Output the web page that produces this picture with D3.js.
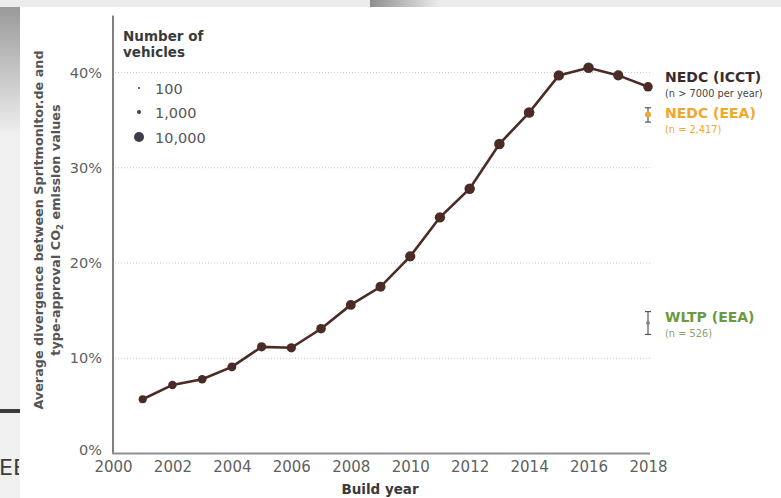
<!DOCTYPE html>
<html>
<head>
<meta charset="utf-8">
<script src="https://cdn.jsdelivr.net/npm/d3@7"></script>
<style>
  html, body { margin: 0; padding: 0; background: #fff; }
  svg { display: block; }
  text { font-family: "DejaVu Sans", "Open Sans", sans-serif; }
</style>
</head>
<body>
<svg id="chart" width="781" height="498"></svg>
<script>
// Build years with Spritmonitor.de records
const years = [2001, 2002, 2003, 2004, 2005, 2006, 2007, 2008, 2009,
               2010, 2011, 2012, 2013, 2014, 2015, 2016, 2017, 2018];
// Average divergence (%) between real-world and type-approval CO2, NEDC (ICCT)
const divergence = [5.7, 7.2, 7.8, 9.1, 11.2, 11.1, 13.1, 15.6, 17.5,
                    20.7, 24.8, 27.8, 32.5, 35.8, 39.7, 40.5, 39.7, 38.5];
// Number of vehicles behind each annual mean (marker size)
const vehicles = [6200, 6800, 7200, 7600, 8300, 8500, 9000, 9600, 10000,
                  10400, 10800, 11000, 11200, 11400, 11000, 11200, 10200, 8800];

// EEA comparison points for build year 2018: mean with error range (%)
const eeaLabels = ["NEDC (EEA)", "WLTP (EEA)"];
const eeaCounts = ["(n = 2,417)", "(n = 526)"];
const eeaMean = [35.6, 13.7];
const eeaLow = [34.8, 12.5];
const eeaHigh = [36.3, 14.9];

const yTicks = [0, 10, 20, 30, 40];
const xTicks = [2000, 2002, 2004, 2006, 2008, 2010, 2012, 2014, 2016, 2018];
const legendCounts = [100, 1000, 10000];

const colLine = "#4a2b25";
const colOrange = "#f0a82e";
const colGreen = "#6c9a40";

const svg = d3.select("#chart");

// ---- page surroundings ----
svg.append("rect").attr("x", 0).attr("y", 0).attr("width", 781).attr("height", 498).attr("fill", "#fff");
const defs = svg.append("defs");
const gTop = defs.append("linearGradient").attr("id", "gTop").attr("x1", 0).attr("x2", 1).attr("y1", 0).attr("y2", 0);
gTop.append("stop").attr("offset", 0).attr("stop-color", "#8e8e8e");
gTop.append("stop").attr("offset", 1).attr("stop-color", "#ececec");
const gLeft = defs.append("linearGradient").attr("id", "gLeft").attr("x1", 0).attr("x2", 0).attr("y1", 0).attr("y2", 1);
gLeft.append("stop").attr("offset", 0).attr("stop-color", "#9a9a9a");
gLeft.append("stop").attr("offset", 1).attr("stop-color", "#ededed");

svg.append("rect").attr("x", 0).attr("y", 0).attr("width", 20).attr("height", 498).attr("fill", "#f0f0f0");
svg.append("rect").attr("x", 0).attr("y", 7).attr("width", 20).attr("height", 125).attr("fill", "url(#gLeft)");
svg.append("rect").attr("x", 0).attr("y", 0).attr("width", 781).attr("height", 7).attr("fill", "#ececec");
svg.append("rect").attr("x", 370).attr("y", 0).attr("width", 70).attr("height", 7).attr("fill", "url(#gTop)");
svg.append("rect").attr("x", 0).attr("y", 409).attr("width", 20).attr("height", 4).attr("fill", "#3a3a3a");
defs.append("clipPath").attr("id", "clipLeft").append("rect").attr("x", 0).attr("y", 0).attr("width", 19).attr("height", 498);
svg.append("text").attr("clip-path", "url(#clipLeft)")
  .attr("x", -1).attr("y", 475).attr("font-size", 22).attr("fill", "#3c3c3c").text("EB");

// ---- scales ----
const x = d3.scaleLinear().domain([2000, 2018]).range([113, 648]);
const y = d3.scaleLinear().domain([0, 46]).range([453.5, 15.4]);
const r = d3.scaleSqrt().domain([0, 10000]).range([0.6, 5]);

// gridlines
svg.append("g").selectAll("line").data(yTicks.filter(d => d > 0)).join("line")
  .attr("x1", x(2000) + 2).attr("x2", x(2018) + 4)
  .attr("y1", d => y(d)).attr("y2", d => y(d))
  .attr("stroke", "#c9c9c9").attr("stroke-width", 1).attr("stroke-dasharray", "1,2");

// y axis
const yAxis = svg.append("g").attr("transform", `translate(${x(2000)},0)`)
  .call(d3.axisLeft(y).tickValues(yTicks).tickSize(0).tickPadding(11).tickFormat(d => d + "%"));
yAxis.select(".domain").remove();
yAxis.selectAll("text").attr("font-size", 14.5).attr("fill", "#5f5f5f")
  .attr("font-family", "DejaVu Sans, sans-serif");
yAxis.selectAll("text").filter(d => d === 0).attr("dy", "0.1em");
svg.append("line").attr("x1", x(2000)).attr("x2", x(2000))
  .attr("y1", y.range()[1]).attr("y2", y(0))
  .attr("stroke", "#555").attr("stroke-width", 1.5);

// x axis
const xAxis = svg.append("g").attr("transform", `translate(0,${y(0)})`)
  .call(d3.axisBottom(x).tickValues(xTicks).tickSize(0).tickPadding(8).tickFormat(d3.format("d")));
xAxis.select(".domain").remove();
xAxis.selectAll("text").attr("font-size", 15).attr("fill", "#5f5f5f")
  .attr("font-family", "DejaVu Sans, sans-serif");
svg.append("line").attr("x1", x(2000) - 0.75).attr("x2", x(2018) + 2)
  .attr("y1", y(0)).attr("y2", y(0))
  .attr("stroke", "#8f8f8f").attr("stroke-width", 2.2);

// axis titles
svg.append("text").attr("x", 380).attr("y", 493.5).attr("text-anchor", "middle")
  .attr("font-size", 13.5).attr("font-weight", "bold").attr("fill", "#3a3a3a").text("Build year");
const yt = svg.append("text").attr("transform", "translate(0,230) rotate(-90)")
  .attr("text-anchor", "middle").attr("font-size", 12.8).attr("font-weight", "bold").attr("fill", "#555");
yt.append("tspan").attr("x", 0).attr("y", 43).text("Average divergence between Spritmonitor.de and");
const t2 = yt.append("tspan").attr("x", 0).attr("y", 60);
t2.append("tspan").text("type-approval CO");
t2.append("tspan").attr("font-size", 8.5).attr("dy", 3).text("2");
t2.append("tspan").attr("dy", -3).text(" emission values");

// NEDC (ICCT) line and markers
const pts = years.map((yr, i) => ({ yr, v: divergence[i], n: vehicles[i] }));
svg.append("path").datum(pts)
  .attr("fill", "none").attr("stroke", colLine).attr("stroke-width", 2.6)
  .attr("d", d3.line().x(d => x(d.yr)).y(d => y(d.v)));
svg.append("g").selectAll("circle").data(pts).join("circle")
  .attr("cx", d => x(d.yr)).attr("cy", d => y(d.v)).attr("r", d => r(d.n))
  .attr("fill", colLine);

// EEA error bars for 2018
const eea = eeaMean.map((m, i) => ({ m, lo: eeaLow[i], hi: eeaHigh[i] }));
const eb = svg.append("g").selectAll("g").data(eea).join("g");
eb.append("line").attr("x1", x(2018)).attr("x2", x(2018))
  .attr("y1", d => y(d.lo)).attr("y2", d => y(d.hi)).attr("stroke", "#555").attr("stroke-width", 1.2);
eb.append("line").attr("x1", x(2018) - 3).attr("x2", x(2018) + 3)
  .attr("y1", d => y(d.lo)).attr("y2", d => y(d.lo)).attr("stroke", "#555").attr("stroke-width", 1.2);
eb.append("line").attr("x1", x(2018) - 3).attr("x2", x(2018) + 3)
  .attr("y1", d => y(d.hi)).attr("y2", d => y(d.hi)).attr("stroke", "#555").attr("stroke-width", 1.2);
eb.append("circle").attr("cx", x(2018)).attr("cy", d => y(d.m))
  .attr("r", (d, i) => i === 0 ? 3 : 1.8)
  .attr("fill", (d, i) => i === 0 ? colOrange : "#777");

// series labels
const lx = 665;
svg.append("text").attr("x", lx).attr("y", 82).attr("font-size", 14).attr("font-weight", "bold")
  .attr("fill", "#3b2d2b").text("NEDC (ICCT)");
svg.append("text").attr("x", lx).attr("y", 97).attr("font-size", 9.8).attr("fill", "#444")
  .text("(n > 7000 per year)");
const eeaColors = [colOrange, colGreen];
const eeaSubColors = [colOrange, "#8aa070"];
const eeaBase = [118, 322];
eeaLabels.forEach((lab, i) => {
  svg.append("text").attr("x", lx).attr("y", eeaBase[i]).attr("font-size", 14).attr("font-weight", "bold")
    .attr("fill", eeaColors[i]).text(lab);
  svg.append("text").attr("x", lx).attr("y", eeaBase[i] + 15).attr("font-size", 9.8)
    .attr("fill", eeaSubColors[i]).text(eeaCounts[i]);
});

// marker size legend
svg.append("text").attr("x", 123).attr("y", 41).attr("font-size", 13.5).attr("font-weight", "bold")
  .attr("fill", "#3a3a3a").text("Number of");
svg.append("text").attr("x", 123).attr("y", 57).attr("font-size", 13.5).attr("font-weight", "bold")
  .attr("fill", "#3a3a3a").text("vehicles");
const legY = [88, 112, 137];
const lg = svg.append("g").selectAll("g").data(legendCounts).join("g")
  .attr("transform", (d, i) => `translate(139,${legY[i]})`);
lg.append("circle").attr("r", d => r(d)).attr("fill", "#3d3d45");
lg.append("text").attr("x", 16).attr("y", 5.5).attr("font-size", 14.5).attr("fill", "#555")
  .text(d => d3.format(",")(d));
</script>
</body>
</html>
